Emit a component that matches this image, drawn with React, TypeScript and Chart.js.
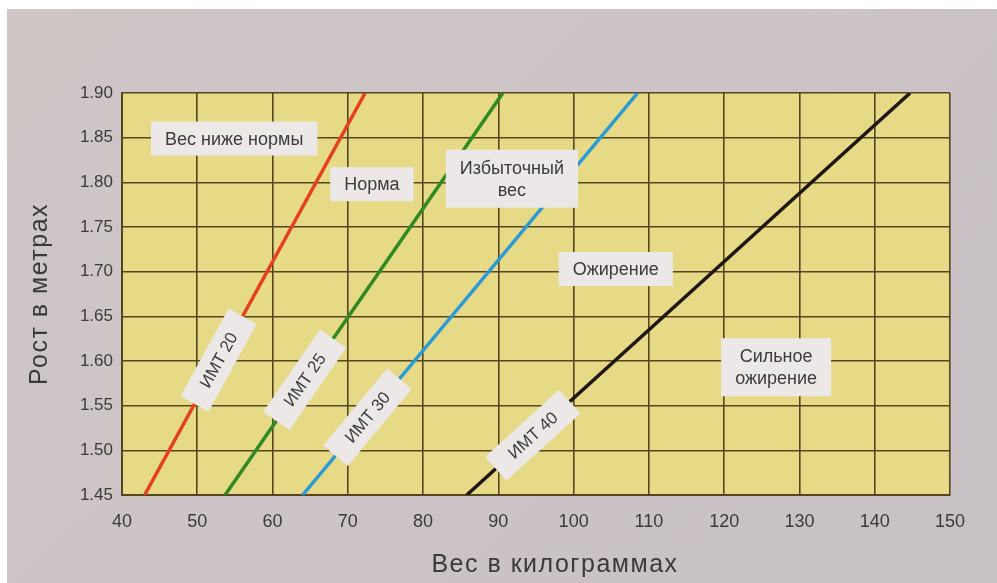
import React, { useEffect, useRef } from "react";
import { Chart, registerables } from "chart.js";

Chart.register(...registerables);

// Heights (m) at which each BMI line was read
const heights = [1.45, 1.9];
// Weights (kg) for each BMI line
const imt20 = [43.0, 72.3];
const imt25 = [53.7, 90.6];
const imt30 = [64.0, 108.5];
const imt40 = [85.8, 144.7];

const xTicks = [40, 50, 60, 70, 80, 90, 100, 110, 120, 130, 140, 150];
const yTicks = [1.45, 1.5, 1.55, 1.6, 1.65, 1.7, 1.75, 1.8, 1.85, 1.9];

const lineNames = ["ИМТ 20", "ИМТ 25", "ИМТ 30", "ИМТ 40"];
const lineColors = ["#e5401f", "#2f8a22", "#2a9bd6", "#1e1712"];

// Zone labels: text lines, weight, height
const zoneTexts = [["Вес ниже нормы"], ["Норма"], ["Избыточный", "вес"], ["Ожирение"], ["Сильное", "ожирение"]];
const zoneX = [54.9, 73.2, 91.8, 105.6, 126.9];
const zoneY = [1.849, 1.798, 1.804, 1.703, 1.593];

// Heights at which the BMI line labels sit
const bmiLabelY = [1.601, 1.579, 1.537, 1.517];

const xTitle = "Вес в килограммах";
const yTitle = "Рост в метрах";

const FONT = "'Liberation Sans', Arial, sans-serif";

export default function App() {
  const ref = useRef<HTMLCanvasElement | null>(null);

  useEffect(() => {
    if (!ref.current) return;
    const series = [imt20, imt25, imt30, imt40];
    const datasets = series.map((w, i) => ({
      label: lineNames[i],
      data: w.map((v, j) => ({ x: v, y: heights[j] })),
      showLine: true,
      borderColor: lineColors[i],
      backgroundColor: lineColors[i],
      borderWidth: 3.5,
      pointRadius: 0,
      tension: 0,
    }));

    const bgPlugin = {
      id: "bg",
      beforeDraw(chart: any) {
        const { ctx, chartArea: a } = chart;
        ctx.save();
        ctx.fillStyle = "#e6da86";
        ctx.fillRect(a.left, a.top, a.right - a.left, a.bottom - a.top);
        ctx.restore();
      },
    };

    const drawBox = (ctx: any, w: number, h: number) => {
      ctx.fillStyle = "#ebe8e7";
      ctx.fillRect(-w / 2, -h / 2, w, h);
    };

    const labelPlugin = {
      id: "labels",
      afterDatasetsDraw(chart: any) {
        const { ctx, scales } = chart;
        const xs = scales.x;
        const ys = scales.y;
        ctx.save();
        ctx.textAlign = "center";
        ctx.textBaseline = "middle";
        ctx.font = `18px ${FONT}`;
        // zone labels
        zoneTexts.forEach((lines, i) => {
          const px = xs.getPixelForValue(zoneX[i]);
          const py = ys.getPixelForValue(zoneY[i]);
          const tw = Math.max(...lines.map((l) => ctx.measureText(l).width));
          const lh = 22;
          const bw = tw + 28;
          const bh = lines.length > 1 ? 58 : 34;
          ctx.save();
          ctx.translate(px, py);
          drawBox(ctx, bw, bh);
          ctx.fillStyle = "#3c3c3c";
          lines.forEach((l, k) => {
            ctx.fillText(l, 0, (k - (lines.length - 1) / 2) * lh + 1);
          });
          ctx.restore();
        });
        // BMI labels along lines
        ctx.font = `17px ${FONT}`;
        series.forEach((w, i) => {
          const p0x = xs.getPixelForValue(w[0]);
          const p0y = ys.getPixelForValue(heights[0]);
          const p1x = xs.getPixelForValue(w[w.length - 1]);
          const p1y = ys.getPixelForValue(heights[heights.length - 1]);
          const ang = Math.atan2(p1y - p0y, p1x - p0x);
          const py = ys.getPixelForValue(bmiLabelY[i]);
          const t = (py - p0y) / (p1y - p0y);
          const px = p0x + t * (p1x - p0x);
          ctx.save();
          ctx.translate(px, py);
          ctx.rotate(ang);
          drawBox(ctx, 100, 32);
          ctx.fillStyle = "#3c3c3c";
          ctx.fillText(lineNames[i], 0, 1);
          ctx.restore();
        });
        // axis titles
        ctx.fillStyle = "#3a3a3a";
        ctx.font = `25px ${FONT}`;
        try {
          (ctx as any).letterSpacing = "1.5px";
        } catch (e) {}
        const a = chart.chartArea;
        ctx.fillText(xTitle, 548, 556);
        ctx.save();
        ctx.translate(33, (a.top + a.bottom) / 2);
        ctx.rotate(-Math.PI / 2);
        ctx.fillText(yTitle, 0, 0);
        ctx.restore();
        ctx.restore();
      },
    };

    const chart = new Chart(ref.current, {
      type: "scatter",
      data: { datasets },
      options: {
        animation: false,
        responsive: true,
        maintainAspectRatio: false,
        layout: { padding: { left: 0, top: 84, right: 47, bottom: 0 } },
        plugins: { legend: { display: false }, tooltip: { enabled: false } },
        scales: {
          x: {
            type: "linear",
            min: 40,
            max: 150,
            afterBuildTicks: (s: any) => {
              s.ticks = xTicks.map((v) => ({ value: v }));
            },
            afterFit: (s: any) => {
              s.height = 88;
            },
            grid: { color: "#55461f", lineWidth: 1.6, drawTicks: false },
            border: { color: "#55461f", width: 2 },
            ticks: {
              color: "#3a3a3a",
              font: { size: 18, family: FONT },
              padding: 16,
              maxRotation: 0,
              autoSkip: false,
            },
          },
          y: {
            type: "linear",
            min: 1.45,
            max: 1.9,
            afterBuildTicks: (s: any) => {
              s.ticks = yTicks.map((v) => ({ value: v }));
            },
            afterFit: (s: any) => {
              s.width = 115;
            },
            grid: { color: "#55461f", lineWidth: 1.6, drawTicks: false },
            border: { color: "#55461f", width: 2 },
            ticks: {
              color: "#3a3a3a",
              font: { size: 17, family: FONT },
              padding: 9,
              autoSkip: false,
              callback: (v: any) => Number(v).toFixed(2),
            },
          },
        },
      },
      plugins: [bgPlugin, labelPlugin],
    });
    return () => chart.destroy();
  }, []);

  return (
    <div
      style={{
        position: "fixed",
        left: 7,
        top: 9,
        right: 0,
        bottom: 0,
        background: "linear-gradient(135deg, #cfc6c6 0%, #ccc4c6 50%, #c7c0c5 100%)",
      }}
    >
      <canvas ref={ref} />
    </div>
  );
}
